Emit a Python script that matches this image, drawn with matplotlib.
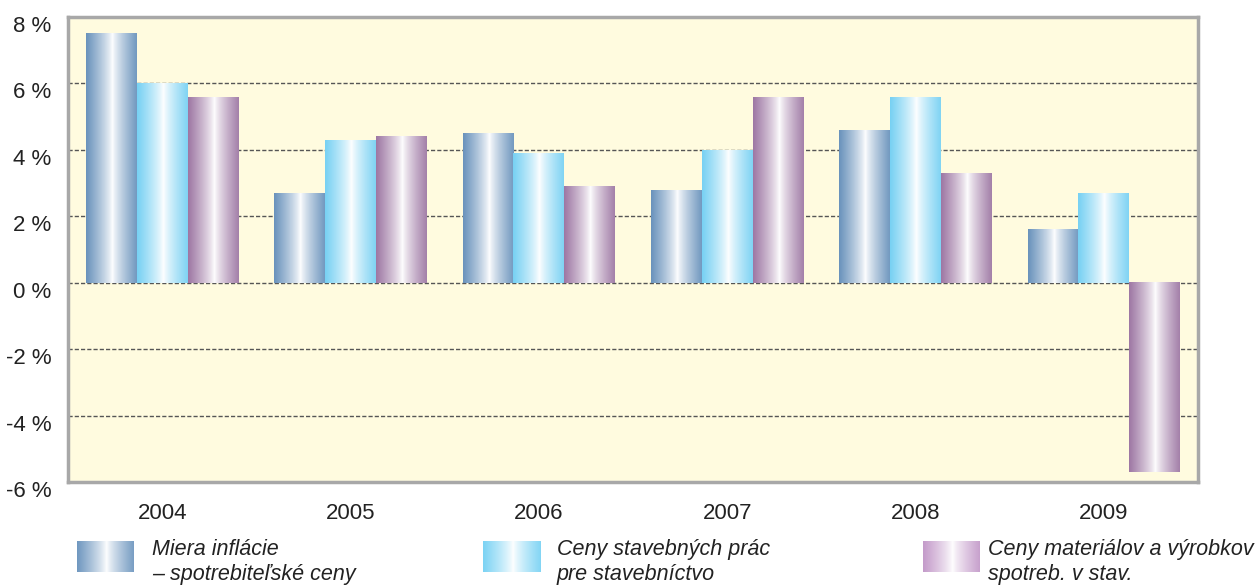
import numpy as np
import matplotlib
matplotlib.use("Agg")
import matplotlib.pyplot as plt
import matplotlib.transforms as mtransforms
from matplotlib.colors import to_rgb

plt.rcParams['font.family'] = ['Liberation Sans', 'DejaVu Sans']

years = ["2004", "2005", "2006", "2007", "2008", "2009"]
inflacia = [7.5, 2.7, 4.5, 2.8, 4.6, 1.6]
stav_prace = [6.0, 4.3, 3.9, 4.0, 5.6, 2.7]
materialy = [5.6, 4.4, 2.9, 5.6, 3.3, -5.7]
labels = ["Miera inflácie\n– spotrebiteľské ceny",
          "Ceny stavebných prác\npre stavebníctvo",
          "Ceny materiálov a výrobkov\nspotreb. v stav."]
colors = ["#6A93BC", "#78D1F3", "#9E78A4"]
legend_colors = ["#7098C0", "#7CD3F4", "#C49BCA"]


def gradient(color, n=64):
    c = np.array(to_rgb(color))
    x = np.linspace(0, 1, n)
    t = np.clip(np.abs(x - 0.52) / 0.52, 0, 1) ** 0.8
    rgb = (1 - t)[:, None] * np.ones(3) + t[:, None] * c
    return rgb[None, :, :]


fig = plt.figure(figsize=(12.58, 5.85), dpi=100)
ax = fig.add_axes([68 / 1258, 103 / 585, 1130 / 1258, 465 / 585])
ax.set_facecolor("#FFFBDF")

x = np.arange(len(years))
w = 0.27
series = [inflacia, stav_prace, materialy]
for i, (vals, col) in enumerate(zip(series, colors)):
    bars = ax.bar(x + (i - 1) * w, vals, w, color="none", edgecolor="none", zorder=3)
    img = gradient(col)
    for b in bars:
        x0, y0 = b.get_x(), b.get_y()
        ax.imshow(img, extent=[x0, x0 + b.get_width(), y0, y0 + b.get_height()],
                  aspect="auto", zorder=3, interpolation="bilinear")

ax.set_xlim(-0.5, len(years) - 0.5)
ax.set_ylim(-6, 8)
ax.set_yticks(range(-6, 9, 2))
ax.set_yticklabels([f"{v} %" for v in range(-6, 9, 2)], fontsize=16, color="#222222")
ax.set_xticks(x)
ax.set_xticklabels(years, fontsize=16, color="#222222")
ax.tick_params(axis="both", length=0)
ax.tick_params(axis="x", pad=15)
ax.tick_params(axis="y", pad=12)
shift = mtransforms.ScaledTranslation(0, -7 / 100, fig.dpi_scale_trans)
for lbl in ax.get_yticklabels():
    lbl.set_transform(lbl.get_transform() + shift)
for v in [-4, -2, 0, 2, 4, 6]:
    ax.axhline(v, color="#555555", lw=1, ls=(0, (3, 1.5)), zorder=1)
for s in ax.spines.values():
    s.set_color("#A8A8A8")
    s.set_linewidth(2.5)

# legend
leg_x = [77, 483, 923]
txt_x = [152, 557, 988]
for lx, tx, col, lab in zip(leg_x, txt_x, legend_colors, labels):
    lax = fig.add_axes([lx / 1258, (585 - 572) / 585, 57 / 1258, 31 / 585])
    lax.imshow(gradient(col), aspect="auto", interpolation="bilinear")
    lax.axis("off")
    fig.text(tx / 1258, (585 - 562) / 585, lab, fontsize=15.5, style="italic",
             color="#222222", va="center", ha="left", linespacing=1.2)

fig.savefig("out.png", dpi=100)
